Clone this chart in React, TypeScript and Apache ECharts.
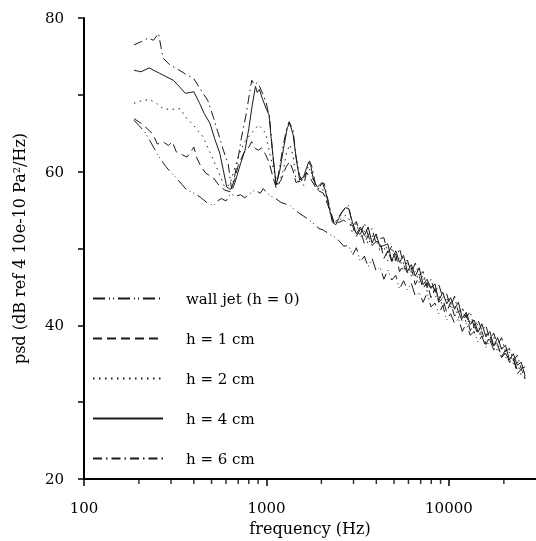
import React, { useEffect, useRef } from "react";
import * as echarts from "echarts";

const seriesNames = ["wall jet (h = 0)", "h = 1 cm", "h = 2 cm", "h = 4 cm", "h = 6 cm"];
const xTickLabels = [100, 1000, 10000];
const yTickLabels = [20, 40, 60, 80];
const minorTickFreqs = [200, 300, 400, 500, 600, 700, 800, 900, 2000, 3000, 4000, 5000, 6000, 7000, 8000, 9000, 20000];

// low-frequency part: [frequency Hz, psd dB]
const wallJetLow = [
  [188, 66.7], [200, 66.0], [215, 65.2], [230, 64.0], [252, 62.3], [280, 60.7], [297, 60.0], [320, 59.2], [345, 58.3],
  [366, 57.6], [400, 57.2], [433, 56.7], [470, 56.0], [512, 55.6], [540, 56.2], [565, 56.5], [600, 56.2], [635, 57.1],
  [680, 56.8], [720, 57.0], [760, 56.6], [800, 57.0], [860, 57.6], [925, 57.2], [960, 57.8], [1000, 57.3], [1060, 56.8],
  [1140, 56.4], [1200, 56.0], [1270, 55.8], [1350, 55.6], [1430, 55.0], [1510, 54.6], [1600, 54.2], [1700, 53.8],
  [1800, 53.3], [1940, 52.6], [2050, 52.4], [2200, 51.9], [2350, 51.5], [2500, 51.0], [2650, 50.3]
];
const h1Low = [
  [188, 66.9], [205, 66.3], [218, 65.8], [240, 64.8], [252, 63.6], [275, 63.8], [290, 63.4], [305, 63.9], [320, 62.6],
  [345, 62.2], [367, 61.9], [385, 62.6], [400, 63.2], [415, 61.8], [437, 60.7], [465, 59.8], [512, 59.2], [550, 58.2],
  [590, 57.6], [630, 57.4], [670, 59.0], [700, 60.8], [750, 62.4], [800, 63.2], [830, 63.9], [870, 63.0], [905, 62.8],
  [940, 63.1], [990, 62.2], [1033, 61.2], [1080, 59.5], [1130, 57.9], [1200, 58.9], [1280, 60.6], [1340, 61.3],
  [1400, 60.1], [1450, 58.6], [1560, 58.8], [1660, 59.9], [1760, 58.9], [1900, 57.6], [2050, 57.2], [2200, 55.3],
  [2350, 53.2], [2500, 53.4], [2650, 53.7]
];
const h2Low = [
  [188, 68.9], [205, 69.2], [228, 69.4], [250, 68.9], [271, 68.2], [300, 68.1], [336, 68.2], [367, 66.9], [400, 66.0],
  [450, 64.5], [512, 61.5], [550, 59.8], [590, 58.0], [630, 58.3], [700, 62.0], [760, 63.9], [820, 64.9], [870, 65.6],
  [905, 66.1], [960, 65.4], [990, 65.0], [1040, 62.5], [1085, 60.6], [1160, 58.1], [1230, 60.0], [1290, 62.5],
  [1340, 63.5], [1400, 62.1], [1450, 59.0], [1530, 58.6], [1620, 59.5], [1740, 60.4], [1820, 58.6], [1900, 57.8],
  [2020, 57.9], [2150, 56.0], [2300, 53.6], [2450, 53.4], [2600, 54.0], [2700, 54.3]
];
const h4Low = [
  [188, 73.2], [205, 73.0], [228, 73.5], [245, 73.1], [260, 72.8], [285, 72.3], [309, 71.9], [335, 71.0], [359, 70.2],
  [380, 70.3], [400, 70.4], [430, 68.9], [455, 67.6], [490, 66.3], [520, 64.3], [555, 62.4], [580, 60.2], [606, 58.0],
  [632, 57.7], [655, 57.9], [672, 58.6], [720, 61.0], [763, 62.8], [800, 65.6], [835, 68.6], [870, 71.1], [890, 70.3],
  [915, 70.7], [950, 69.5], [1000, 68.1], [1033, 67.4], [1060, 64.5], [1085, 62.1], [1130, 58.3], [1180, 60.0],
  [1240, 63.0], [1300, 65.7], [1340, 66.3], [1400, 64.8], [1460, 61.5], [1520, 58.9], [1600, 59.4], [1700, 61.2],
  [1750, 60.8], [1810, 58.9], [1900, 58.0], [2020, 58.6], [2100, 57.6], [2200, 55.5], [2300, 53.4], [2400, 53.1],
  [2500, 54.0], [2600, 54.8], [2700, 55.3]
];
const h6Low = [
  [188, 76.5], [205, 76.9], [225, 77.4], [240, 77.1], [256, 78.0], [271, 74.8], [295, 73.9], [323, 73.4], [360, 72.7],
  [400, 72.1], [440, 70.5], [476, 69.3], [510, 67.2], [541, 65.2], [580, 62.8], [617, 61.0], [643, 57.8], [670, 59.5],
  [700, 61.8], [730, 64.5], [770, 67.2], [800, 69.6], [830, 71.9], [860, 71.3], [890, 71.6], [920, 71.0], [960, 70.0],
  [1000, 68.8], [1040, 67.0], [1085, 62.0], [1130, 58.0], [1180, 60.5], [1230, 63.2], [1290, 65.6], [1330, 66.5],
  [1400, 65.4], [1450, 62.0], [1520, 59.5], [1600, 58.2], [1660, 60.0], [1720, 61.4], [1780, 60.6], [1850, 58.4],
  [1920, 57.6], [2000, 58.4], [2070, 58.5], [2150, 56.8], [2250, 54.8], [2350, 53.3], [2450, 53.8], [2550, 54.5],
  [2650, 55.0]
];

// high-frequency part: shared frequency list and one value list per series
const freqHigh = [
  2820, 2960, 3110, 3270, 3440, 3610, 3790, 3990, 4190, 4400, 4620, 4860, 5110, 5360, 5640, 5920, 6220, 6540, 6870,
  7220, 7590, 7970, 8380, 8800, 9250, 9720, 10210, 10730, 11270, 11840, 12450, 13080, 13740, 14440, 15170, 15940,
  16750, 17600, 18490, 19430, 20420, 21450, 22540, 23690, 24890, 26150
];
const wallJetHigh = [
  50.4, 49.1, 50.1, 48.3, 49.0, 47.6, 48.7, 47.1, 47.6, 46.0, 47.2, 45.9, 46.5, 44.7, 45.8, 44.6, 45.5, 43.8, 44.3,
  43.0, 44.2, 42.4, 42.9, 41.5, 42.6, 40.7, 41.5, 40.3, 40.9, 39.2, 40.3, 38.7, 39.2, 37.8, 38.6, 37.1, 38.1, 36.8,
  37.3, 35.8, 36.4, 35.1, 35.7, 34.2, 34.3, 33.0
];
const h1High = [
  53.2, 53.0, 51.6, 52.5, 50.6, 51.7, 50.4, 50.9, 50.9, 48.7, 49.7, 48.3, 49.3, 47.0, 47.9, 46.8, 47.5, 45.3, 46.4,
  44.8, 45.6, 43.6, 44.8, 43.0, 43.5, 41.7, 43.0, 41.2, 41.8, 40.5, 41.4, 39.3, 40.2, 38.7, 39.2, 37.5, 38.6, 37.2,
  37.5, 35.9, 36.8, 35.2, 35.7, 33.7, 34.3, 33.2
];
const h2High = [
  54.1, 52.0, 53.3, 51.4, 52.3, 50.5, 51.6, 51.7, 49.6, 50.3, 48.4, 49.9, 48.3, 48.8, 47.0, 48.4, 46.4, 47.0, 45.6,
  46.5, 44.4, 45.4, 43.7, 44.0, 42.4, 43.7, 42.1, 42.7, 41.0, 42.3, 40.2, 40.8, 39.6, 40.2, 38.3, 39.0, 37.7, 38.5,
  36.5, 37.3, 35.7, 36.5, 35.0, 35.3, 33.5, 34.0
];
const h4High = [
  55.2, 53.4, 51.9, 52.8, 51.7, 52.8, 50.7, 51.9, 50.2, 50.4, 50.6, 48.4, 49.7, 48.2, 49.1, 47.0, 47.9, 46.4, 47.5,
  45.3, 46.0, 44.8, 45.4, 43.2, 44.3, 42.8, 43.6, 42.1, 43.0, 40.9, 41.7, 40.1, 40.7, 39.1, 40.2, 38.5, 39.2, 37.3,
  38.4, 36.9, 37.4, 35.5, 36.3, 34.8, 35.2, 33.4
];
const h6High = [
  55.6, 52.9, 53.5, 51.8, 53.3, 51.7, 52.6, 50.6, 51.3, 51.4, 49.4, 50.3, 48.5, 50.0, 48.0, 48.5, 46.8, 48.1, 46.5,
  47.0, 44.9, 46.0, 44.3, 45.3, 43.6, 44.1, 42.4, 43.8, 41.7, 42.3, 41.0, 41.8, 39.7, 40.7, 39.3, 40.0, 38.1, 39.0,
  37.4, 38.4, 36.6, 37.0, 35.4, 36.1, 34.4, 34.6
];

export default function App() {
  const ref = useRef<HTMLDivElement>(null);
  useEffect(() => {
    if (!ref.current) return;
    const chart = echarts.init(ref.current, null, { renderer: "svg" });
    const font = "'DejaVu Serif', 'Liberation Serif', serif";
    const lineColor = "#1a1a1a";
    const build = (low: number[][], high: number[]) =>
      low.concat(freqHigh.map((f, i) => [f, high[i]]));
    const lows = [wallJetLow, h1Low, h2Low, h4Low, h6Low];
    const highs = [wallJetHigh, h1High, h2High, h4High, h6High];
    const dashes: any[] = [[12, 4, 1, 3, 1, 4], [9, 5], [1.5, 4.5], "solid", [9, 4, 1.5, 4]];
    const lineSeries = seriesNames.map((name, i) => ({
      name,
      type: "line",
      data: build(lows[i], highs[i]),
      symbol: "none",
      showSymbol: false,
      silent: true,
      lineStyle: { color: lineColor, width: 1, type: dashes[i] },
      itemStyle: { color: lineColor },
      z: 3,
    }));
    chart.setOption({
      animation: false,
      grid: { left: 84, right: 0, top: 18, bottom: 62 },
      xAxis: {
        type: "log",
        logBase: 10,
        min: 100,
        max: 30000,
        name: "frequency (Hz)",
        nameLocation: "middle",
        nameGap: 41,
        nameTextStyle: { fontFamily: font, fontSize: 16, color: "#000" },
        axisLine: { lineStyle: { color: "#000", width: 2 } },
        axisTick: { length: 7, lineStyle: { color: "#000", width: 1.5 } },
        axisLabel: {
          fontFamily: font,
          fontSize: 15,
          color: "#000",
          margin: 21,
          showMaxLabel: false,
          formatter: (v: number) => (xTickLabels.includes(Math.round(v)) ? String(Math.round(v)) : ""),
        },
        splitLine: { show: false },
        minorTick: { show: false },
      },
      yAxis: {
        type: "value",
        min: 20,
        max: 80,
        interval: 10,
        name: "psd (dB ref 4 10e-10 Pa²/Hz)",
        nameLocation: "middle",
        nameGap: 57,
        nameMoveOverlap: false,
        nameTextStyle: { fontFamily: font, fontSize: 16, color: "#000" },
        axisLine: { show: true, lineStyle: { color: "#000", width: 2 } },
        axisTick: { show: true, length: 6, lineStyle: { color: "#000", width: 1.5 } },
        axisLabel: {
          fontFamily: font,
          fontSize: 15,
          color: "#000",
          margin: 20,
          formatter: (v: number) => (yTickLabels.includes(v) ? String(v) : ""),
        },
        splitLine: { show: false },
      },
      legend: {
        data: seriesNames,
        orient: "vertical",
        left: 87,
        top: 286,
        padding: 5,
        itemWidth: 70,
        itemHeight: 14,
        itemGap: 25,
        selectedMode: false,
        itemStyle: { opacity: 0 },
        textStyle: { fontFamily: font, fontSize: 15, color: "#000", padding: [0, 0, 0, 18] },
      },
      series: [
        ...lineSeries,
        {
          name: "minor ticks",
          type: "scatter",
          data: minorTickFreqs.map((f) => [f, 20]),
          symbol: "rect",
          symbolSize: [1.5, 4],
          symbolOffset: [0, 3],
          itemStyle: { color: "#000" },
          silent: true,
          clip: false,
          z: 5,
        },
      ],
    });
    return () => chart.dispose();
  }, []);
  return <div ref={ref} style={{ position: "fixed", left: 0, top: 0, width: 536, height: 541 }} />;
}
